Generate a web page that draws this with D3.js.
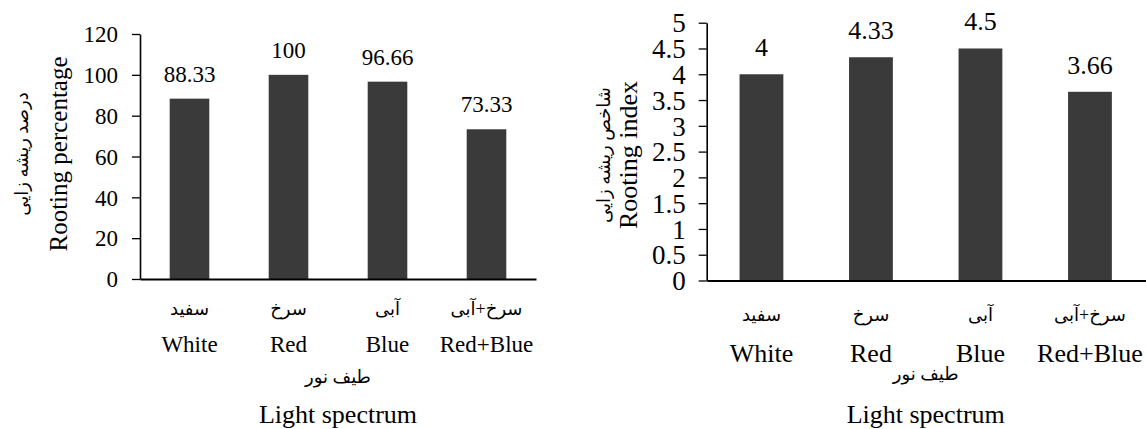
<!DOCTYPE html>
<html>
<head>
  <meta charset="utf-8">
  <script src="https://d3js.org/d3.v7.min.js"></script>
</head>
<style>
  body { margin: 0; background: #fff; }
  .domain { stroke: #000; stroke-width: 1.6px; }
  .tick line { stroke: #000; stroke-width: 1.3px; }
</style>
<body>
  <svg id="chart"></svg>
</body>
<script>
  var w = 1146;
  var h = 429;
  var font = '"Liberation Serif", "DejaVu Sans", serif';

  // categories (persian + english)
  var catFa = ["سفید", "سرخ", "آبی", "سرخ+آبی"];
  var catEn = ["White", "Red", "Blue", "Red+Blue"];

  // series values
  var rootingPercentage = [88.33, 100, 96.66, 73.33];
  var rootingIndex = [4, 4.33, 4.5, 3.66];

  // tick labels
  var percentTicks = [0, 20, 40, 60, 80, 100, 120];
  var indexTicks = [0, 0.5, 1, 1.5, 2, 2.5, 3, 3.5, 4, 4.5, 5];

  var xTitleFa = "طیف نور";
  var xTitleEn = "Light spectrum";

  var svg = d3.select("#chart").attr("width", w).attr("height", h);

  var bar_color = "#3a3a3a";

  function drawPanel(p) {
    var x = d3.scaleBand()
        .domain(catEn)
        .range([p.left, p.right])
        .paddingInner(0.6)
        .paddingOuter(0.3);
    var y = d3.scaleLinear()
        .domain([0, p.max])
        .range([p.bottom, p.top]);

    var g = svg.append("g");

    // y axis
    var yAxis = d3.axisLeft(y)
        .tickValues(p.ticks)
        .tickSize(8)
        .tickSizeOuter(0)
        .tickPadding(p.tickPad)
        .tickFormat(function(d){ return d; });
    g.append("g")
        .attr("transform", "translate(" + p.left + ",0)")
        .call(yAxis)
        .attr("font-family", null)
        .selectAll("text")
          .style("font-family", font)
          .style("font-size", p.tickFont + "px")
          .attr("fill", "#000")
          .attr("dy", "0.34em");

    // bars
    g.selectAll("rect.bar")
        .data(p.values)
        .enter().append("rect")
        .attr("class", "bar")
        .attr("x", function(d, i){ return x(catEn[i]); })
        .attr("width", x.bandwidth())
        .attr("y", function(d){ return y(d); })
        .attr("height", function(d){ return y(0) - y(d); })
        .attr("fill", bar_color);

    // value labels
    g.selectAll("text.val")
        .data(p.values)
        .enter().append("text")
        .attr("class", "val")
        .attr("x", function(d, i){ return x(catEn[i]) + x.bandwidth() / 2; })
        .attr("y", function(d){ return y(d) - p.valGap; })
        .attr("text-anchor", "middle")
        .style("font-family", font)
        .style("font-size", p.valFont + "px")
        .text(function(d){ return d; });

    // x axis line (extends to lineEnd)
    var xLine = d3.scaleLinear().domain([0, 1]).range([p.left, p.lineEnd]);
    g.append("g")
        .attr("transform", "translate(0," + p.bottom + ")")
        .call(d3.axisBottom(xLine).tickValues([]).tickSizeOuter(0))
        .select(".domain").style("stroke-width", "2px");

    // category labels
    var cats = g.selectAll("g.cat")
        .data(catEn)
        .enter().append("g")
        .attr("class", "cat")
        .attr("transform", function(d){ return "translate(" + (x(d) + x.bandwidth() / 2) + ",0)"; });
    cats.append("text")
        .attr("y", p.faCatY)
        .attr("text-anchor", "middle")
        .style("font-family", font)
        .style("font-size", p.faFont + "px")
        .text(function(d, i){ return catFa[i]; });
    cats.append("text")
        .attr("y", p.enCatY)
        .attr("text-anchor", "middle")
        .style("font-family", font)
        .style("font-size", p.catFont + "px")
        .text(function(d){ return d; });

    // x titles
    var cx = (p.left + p.right) / 2;
    g.append("text")
        .attr("x", cx).attr("y", p.faTitleY)
        .attr("text-anchor", "middle")
        .style("font-family", font)
        .style("font-size", p.faFont + "px")
        .text(xTitleFa);
    g.append("text")
        .attr("x", cx).attr("y", p.enTitleY)
        .attr("text-anchor", "middle")
        .style("font-family", font)
        .style("font-size", p.titleFont + "px")
        .text(xTitleEn);

    // y titles
    var cy = p.yTitleCy;
    g.append("text")
        .attr("transform", "translate(" + p.faYX + "," + cy + ") rotate(-90)")
        .attr("text-anchor", "middle")
        .style("font-family", font)
        .style("font-size", p.faFont + "px")
        .text(p.yFa);
    g.append("text")
        .attr("transform", "translate(" + p.enYX + "," + cy + ") rotate(-90)")
        .attr("text-anchor", "middle")
        .style("font-family", font)
        .style("font-size", p.yTitleFont + "px")
        .text(p.yEn);
  }

  drawPanel({
    left: 140, right: 536, lineEnd: 536, top: 34, bottom: 279,
    max: 120, ticks: percentTicks, values: rootingPercentage,
    tickFont: 23, tickPad: 14, valFont: 23, valGap: 17,
    catFont: 23, faFont: 18, titleFont: 26, yTitleFont: 25,
    faCatY: 315, enCatY: 352, faTitleY: 383, enTitleY: 423,
    yFa: "درصد ریشه زایی", yEn: "Rooting percentage",
    faYX: 28, enYX: 67, yTitleCy: 154
  });

  drawPanel({
    left: 706.7, right: 1144.7, lineEnd: 1146, top: 22.7, bottom: 280.5,
    max: 5, ticks: indexTicks, values: rootingIndex,
    tickFont: 27, tickPad: 13, valFont: 26, valGap: 18,
    catFont: 26, faFont: 18, titleFont: 26, yTitleFont: 26,
    faCatY: 321, enCatY: 362, faTitleY: 380, enTitleY: 423,
    yFa: "شاخص ریشه زایی", yEn: "Rooting index",
    faYX: 610, enYX: 637, yTitleCy: 155
  });
</script>
</html>
